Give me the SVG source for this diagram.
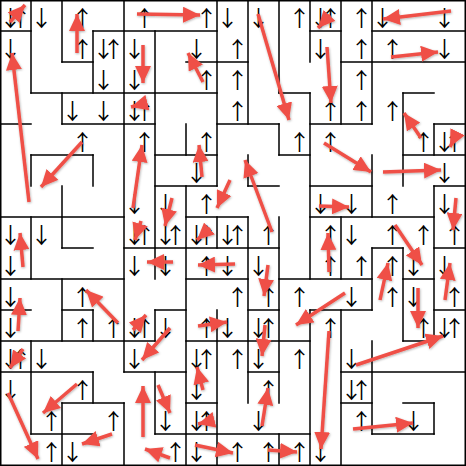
<svg xmlns="http://www.w3.org/2000/svg" width="466" height="466" viewBox="0 0 466 466">
<style>
.w{fill:none;stroke:#000;stroke-width:1.5;stroke-linecap:square}
.t{font-family:"Noto Sans CJK SC","DejaVu Sans",sans-serif;font-size:22px;fill:#000;text-anchor:middle;dominant-baseline:central}
.r{fill:none;stroke:#ef5046;stroke-width:3.5;marker-end:url(#h)}
</style>
<defs>
<marker id="h" markerUnits="userSpaceOnUse" markerWidth="18" markerHeight="16" refX="17" refY="8" orient="auto"><path d="M0,0 L17,8 L0,16 z" fill="#ef5046"/></marker>
<filter id="sh" x="-10%" y="-10%" width="120%" height="120%"><feDropShadow dx="0.6" dy="1" stdDeviation="1" flood-color="#000" flood-opacity="0.3"/></filter>
</defs>
<rect x="0" y="0" width="466" height="466" fill="#fff"/>
<g id="walls">
<rect class="w" x="0.75" y="0.75" width="464.5" height="464.5"/>
<path class="w" d="M0 31H31M93 31H217M310 31H341M372 31H465M62 62H93M186 62H248M341 62H465M31 93H217M279 93H310M403 93H434M0 124H31M62 124H155M217 124H279M310 124H372M434 124H465M31 155H93M155 155H217M279 155H310M403 155H465M155 186H217M248 186H279M310 186H372M434 186H465M0 217H124M186 217H248M310 217H434M62 248H93M124 248H279M372 248H403M434 248H465M0 279H124M186 279H248M279 279H372M403 279H434M0 310H31M62 310H93M155 310H186M248 310H279M310 310H372M434 310H465M0 341H155M186 341H310M403 341H434M0 372H93M124 372H186M248 372H279M341 372H465M62 403H124M186 403H217M341 403H372M403 403H434M31 434H93M155 434H310M372 434H434"/>
<path class="w" d="M31 0V93M31 155V186M31 217V279M31 341V434M62 0V62M62 93V124M62 186V248M62 279V341M62 403V465M93 31V93M93 155V186M93 310V341M93 372V403M124 0V372M124 403V465M155 31V279M155 310V341M155 372V434M186 124V155M186 186V465M217 0V186M217 217V248M217 310V465M248 0V124M248 155V186M248 217V403M279 0V93M279 124V155M279 217V403M279 434V465M310 0V62M310 93V279M310 310V465M341 0V124M341 217V279M341 310V465M372 0V124M372 155V217M372 248V310M372 341V434M403 93V186M403 248V341M434 124V155M434 186V341M434 403V434"/>
</g>
<g id="cells">
<text class="t" x="10.5" y="15.5">↓</text><text class="t" x="20.5" y="15.5">↑</text><text class="t" x="41.5" y="15.5">↓</text><text class="t" x="82.5" y="15.5">↑</text><text class="t" x="144.5" y="15.5">↑</text><text class="t" x="206.5" y="15.5">↑</text><text class="t" x="227.5" y="15.5">↓</text><text class="t" x="258.5" y="15.5">↓</text><text class="t" x="299.5" y="15.5">↑</text><text class="t" x="320.5" y="15.5">↓</text><text class="t" x="330.5" y="15.5">↑</text><text class="t" x="361.5" y="15.5">↑</text><text class="t" x="382.5" y="15.5">↓</text><text class="t" x="444.5" y="15.5">↓</text>
<text class="t" x="10.5" y="46.5">↓</text><text class="t" x="82.5" y="46.5">↑</text><text class="t" x="103.5" y="46.5">↓</text><text class="t" x="113.5" y="46.5">↑</text><text class="t" x="134.5" y="46.5">↓</text><text class="t" x="196.5" y="46.5">↓</text><text class="t" x="237.5" y="46.5">↑</text><text class="t" x="320.5" y="46.5">↓</text><text class="t" x="361.5" y="46.5">↑</text><text class="t" x="392.5" y="46.5">↑</text><text class="t" x="444.5" y="46.5">↓</text>
<text class="t" x="103.5" y="77.5">↓</text><text class="t" x="134.5" y="77.5">↓</text><text class="t" x="206.5" y="77.5">↑</text><text class="t" x="237.5" y="77.5">↑</text><text class="t" x="361.5" y="77.5">↑</text>
<text class="t" x="72.5" y="108.5">↓</text><text class="t" x="103.5" y="108.5">↓</text><text class="t" x="134.5" y="108.5">↓</text><text class="t" x="144.5" y="108.5">↑</text><text class="t" x="237.5" y="108.5">↑</text><text class="t" x="330.5" y="108.5">↑</text><text class="t" x="361.5" y="108.5">↑</text><text class="t" x="392.5" y="108.5">↑</text>
<text class="t" x="82.5" y="139.5">↑</text><text class="t" x="144.5" y="139.5">↑</text><text class="t" x="206.5" y="139.5">↑</text><text class="t" x="299.5" y="139.5">↑</text><text class="t" x="330.5" y="139.5">↑</text><text class="t" x="423.5" y="139.5">↑</text><text class="t" x="444.5" y="139.5">↓</text><text class="t" x="454.5" y="139.5">↑</text>
<text class="t" x="196.5" y="170.5">↓</text><text class="t" x="444.5" y="170.5">↓</text>
<text class="t" x="134.5" y="201.5">↓</text><text class="t" x="165.5" y="201.5">↓</text><text class="t" x="206.5" y="201.5">↑</text><text class="t" x="320.5" y="201.5">↓</text><text class="t" x="351.5" y="201.5">↓</text><text class="t" x="392.5" y="201.5">↑</text><text class="t" x="444.5" y="201.5">↓</text>
<text class="t" x="10.5" y="232.5">↓</text><text class="t" x="41.5" y="232.5">↓</text><text class="t" x="134.5" y="232.5">↓</text><text class="t" x="144.5" y="232.5">↑</text><text class="t" x="165.5" y="232.5">↓</text><text class="t" x="175.5" y="232.5">↑</text><text class="t" x="196.5" y="232.5">↓</text><text class="t" x="206.5" y="232.5">↑</text><text class="t" x="227.5" y="232.5">↓</text><text class="t" x="237.5" y="232.5">↑</text><text class="t" x="268.5" y="232.5">↑</text><text class="t" x="330.5" y="232.5">↑</text><text class="t" x="351.5" y="232.5">↓</text><text class="t" x="392.5" y="232.5">↑</text><text class="t" x="423.5" y="232.5">↑</text><text class="t" x="454.5" y="232.5">↑</text>
<text class="t" x="10.5" y="263.5">↓</text><text class="t" x="134.5" y="263.5">↓</text><text class="t" x="165.5" y="263.5">↓</text><text class="t" x="206.5" y="263.5">↑</text><text class="t" x="227.5" y="263.5">↓</text><text class="t" x="258.5" y="263.5">↓</text><text class="t" x="330.5" y="263.5">↑</text><text class="t" x="361.5" y="263.5">↑</text><text class="t" x="392.5" y="263.5">↑</text><text class="t" x="413.5" y="263.5">↓</text><text class="t" x="444.5" y="263.5">↓</text>
<text class="t" x="10.5" y="294.5">↓</text><text class="t" x="82.5" y="294.5">↑</text><text class="t" x="237.5" y="294.5">↑</text><text class="t" x="268.5" y="294.5">↑</text><text class="t" x="299.5" y="294.5">↑</text><text class="t" x="351.5" y="294.5">↓</text><text class="t" x="392.5" y="294.5">↑</text><text class="t" x="413.5" y="294.5">↓</text><text class="t" x="454.5" y="294.5">↑</text>
<text class="t" x="10.5" y="325.5">↓</text><text class="t" x="82.5" y="325.5">↑</text><text class="t" x="113.5" y="325.5">↑</text><text class="t" x="134.5" y="325.5">↓</text><text class="t" x="144.5" y="325.5">↑</text><text class="t" x="165.5" y="325.5">↓</text><text class="t" x="206.5" y="325.5">↑</text><text class="t" x="227.5" y="325.5">↓</text><text class="t" x="258.5" y="325.5">↓</text><text class="t" x="268.5" y="325.5">↑</text><text class="t" x="330.5" y="325.5">↑</text><text class="t" x="423.5" y="325.5">↑</text><text class="t" x="444.5" y="325.5">↓</text><text class="t" x="454.5" y="325.5">↑</text>
<text class="t" x="10.5" y="356.5">↓</text><text class="t" x="20.5" y="356.5">↑</text><text class="t" x="41.5" y="356.5">↓</text><text class="t" x="134.5" y="356.5">↓</text><text class="t" x="196.5" y="356.5">↓</text><text class="t" x="206.5" y="356.5">↑</text><text class="t" x="237.5" y="356.5">↑</text><text class="t" x="258.5" y="356.5">↓</text><text class="t" x="299.5" y="356.5">↑</text><text class="t" x="351.5" y="356.5">↓</text>
<text class="t" x="10.5" y="387.5">↓</text><text class="t" x="82.5" y="387.5">↑</text><text class="t" x="196.5" y="387.5">↓</text><text class="t" x="268.5" y="387.5">↑</text><text class="t" x="351.5" y="387.5">↓</text><text class="t" x="361.5" y="387.5">↑</text>
<text class="t" x="51.5" y="418.5">↑</text><text class="t" x="113.5" y="418.5">↑</text><text class="t" x="165.5" y="418.5">↓</text><text class="t" x="196.5" y="418.5">↓</text><text class="t" x="206.5" y="418.5">↑</text><text class="t" x="258.5" y="418.5">↓</text><text class="t" x="361.5" y="418.5">↑</text><text class="t" x="413.5" y="418.5">↓</text>
<text class="t" x="51.5" y="449.5">↑</text><text class="t" x="72.5" y="449.5">↓</text><text class="t" x="175.5" y="449.5">↑</text><text class="t" x="196.5" y="449.5">↓</text><text class="t" x="237.5" y="449.5">↑</text><text class="t" x="268.5" y="449.5">↑</text><text class="t" x="299.5" y="449.5">↑</text><text class="t" x="320.5" y="449.5">↓</text>
</g>
<g id="connectors" filter="url(#sh)">
<path class="r" d="M10 22L25 5"/><path class="r" d="M77 53L77 14"/><path class="r" d="M137 14L200 15"/><path class="r" d="M258 14L289 120"/><path class="r" d="M330 15L318 28"/><path class="r" d="M451 11L383 19"/>
<path class="r" d="M143 45L143 83"/><path class="r" d="M203 82L188 53"/><path class="r" d="M327 47L331 103"/><path class="r" d="M391 57L438 52"/><path class="r" d="M29 202L12 53"/><path class="r" d="M146 103L131 107"/>
<path class="r" d="M421 138L404 113"/><path class="r" d="M82 142L41 187"/><path class="r" d="M133 208L142 145"/><path class="r" d="M141 221L135 240"/><path class="r" d="M202 177L199 145"/><path class="r" d="M457 133L450 147"/><path class="r" d="M324 143L371 172"/>
<path class="r" d="M383 172L441 170"/><path class="r" d="M172 198L165 226"/><path class="r" d="M230 180L217 208"/><path class="r" d="M272 232L245 160"/><path class="r" d="M319 206L349 207"/><path class="r" d="M456 198L453 230"/>
<path class="r" d="M23 267L20 233"/><path class="r" d="M210 228L197 240"/><path class="r" d="M329 272L328 233"/><path class="r" d="M395 225L422 265"/><path class="r" d="M173 262L147 262"/><path class="r" d="M235 264L198 265"/>
<path class="r" d="M268 265L264 296"/><path class="r" d="M380 300L388 263"/><path class="r" d="M18 331L20 298"/><path class="r" d="M118 323L86 290"/><path class="r" d="M345 293L296 325"/><path class="r" d="M418 288L418 328"/>
<path class="r" d="M445 300L450 263"/><path class="r" d="M133 330L146 315"/><path class="r" d="M170 328L142 360"/><path class="r" d="M198 326L227 322"/><path class="r" d="M265 325L262 356"/><path class="r" d="M23 349L10 368"/>
<path class="r" d="M356 365L443 336"/><path class="r" d="M329 331L321 449"/><path class="r" d="M203 390L197 367"/><path class="r" d="M262 426L268 388"/><path class="r" d="M158 385L170 413"/><path class="r" d="M210 421L198 424"/>
<path class="r" d="M8 393L38 459"/><path class="r" d="M77 384L43 413"/><path class="r" d="M143 437L143 386"/><path class="r" d="M112 434L82 444"/><path class="r" d="M170 458L145 449"/><path class="r" d="M195 445L233 453"/>
<path class="r" d="M268 450L297 452"/><path class="r" d="M353 429L413 423"/>
</g>
</svg>
